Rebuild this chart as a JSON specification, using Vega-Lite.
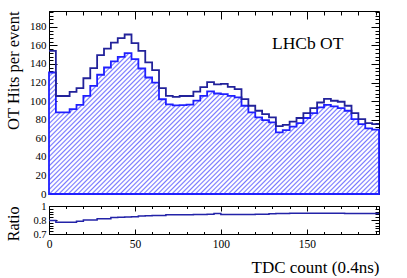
{
"$schema":"https://vega.github.io/schema/vega-lite/v6.json",
"padding":{"left":4,"top":10,"right":0,"bottom":0},
"bounds":"flush",
"spacing":12,
"datasets":{"h":[
{"tdc":0,"all":154,"sel":130.8,"ratio":0.845},
{"tdc":4,"all":105.5,"sel":87.8,"ratio":0.826},
{"tdc":8,"all":105.5,"sel":87.8,"ratio":0.826},
{"tdc":12,"all":110,"sel":91.4,"ratio":0.826},
{"tdc":16,"all":114,"sel":96,"ratio":0.836},
{"tdc":20,"all":124.6,"sel":105.7,"ratio":0.85},
{"tdc":24,"all":135.5,"sel":116.5,"ratio":0.85},
{"tdc":28,"all":149.5,"sel":128.4,"ratio":0.864},
{"tdc":32,"all":156.6,"sel":136.2,"ratio":0.864},
{"tdc":36,"all":163,"sel":142.7,"ratio":0.876},
{"tdc":40,"all":167.8,"sel":147.7,"ratio":0.88},
{"tdc":44,"all":171.7,"sel":151.7,"ratio":0.883},
{"tdc":48,"all":162.4,"sel":145.2,"ratio":0.885},
{"tdc":52,"all":154,"sel":135.1,"ratio":0.893},
{"tdc":56,"all":141.6,"sel":125.4,"ratio":0.895},
{"tdc":60,"all":133.4,"sel":120,"ratio":0.897},
{"tdc":64,"all":114,"sel":102,"ratio":0.897},
{"tdc":68,"all":105.7,"sel":96.5,"ratio":0.905},
{"tdc":72,"all":104.5,"sel":95.3,"ratio":0.905},
{"tdc":76,"all":105.5,"sel":95.7,"ratio":0.906},
{"tdc":80,"all":105.5,"sel":96.2,"ratio":0.907},
{"tdc":84,"all":110.2,"sel":100.5,"ratio":0.908},
{"tdc":88,"all":115,"sel":105.7,"ratio":0.91},
{"tdc":92,"all":120.5,"sel":110.5,"ratio":0.912},
{"tdc":96,"all":118,"sel":108.2,"ratio":0.92},
{"tdc":100,"all":118.5,"sel":107.6,"ratio":0.91},
{"tdc":104,"all":115.4,"sel":105.7,"ratio":0.91},
{"tdc":108,"all":113,"sel":104,"ratio":0.91},
{"tdc":112,"all":102.2,"sel":95,"ratio":0.91},
{"tdc":116,"all":95,"sel":87.9,"ratio":0.91},
{"tdc":120,"all":89.6,"sel":82.4,"ratio":0.911},
{"tdc":124,"all":86,"sel":79.6,"ratio":0.912},
{"tdc":128,"all":82.4,"sel":77,"ratio":0.918},
{"tdc":132,"all":73,"sel":66.3,"ratio":0.92},
{"tdc":136,"all":74.5,"sel":68.8,"ratio":0.92},
{"tdc":140,"all":78,"sel":72.5,"ratio":0.921},
{"tdc":144,"all":81.8,"sel":76.4,"ratio":0.921},
{"tdc":148,"all":87.1,"sel":81.8,"ratio":0.921},
{"tdc":152,"all":92.5,"sel":87.1,"ratio":0.921},
{"tdc":156,"all":98.5,"sel":93.2,"ratio":0.921},
{"tdc":160,"all":102.5,"sel":96,"ratio":0.921},
{"tdc":164,"all":100.4,"sel":94.3,"ratio":0.921},
{"tdc":168,"all":99.3,"sel":92.5,"ratio":0.921},
{"tdc":172,"all":95,"sel":89.6,"ratio":0.92},
{"tdc":176,"all":87.1,"sel":80.7,"ratio":0.92},
{"tdc":180,"all":80.7,"sel":75.3,"ratio":0.92},
{"tdc":184,"all":76.4,"sel":70.6,"ratio":0.919},
{"tdc":188,"all":75.3,"sel":69.2,"ratio":0.919},
{"tdc":192,"all":75.3,"sel":69.2,"ratio":0.919}
]},
"vconcat":[
{
"width":330,"height":183,
"data":{"name":"h"},
"resolve":{"axis":{"x":"independent","y":"independent"}},
"layer":[
{"mark":{"type":"area","interpolate":"step-after","stroke":"#2020ff","strokeWidth":1.8,
"fill":{"gradient":"linear","x1":0,"y1":0,"x2":1.2069,"y2":0.5153,"stops":[
{"offset":0,"color":"#77f"},{"offset":0.0033,"color":"#fff"},
{"offset":0.0067,"color":"#fff"},{"offset":0.01,"color":"#77f"},{"offset":0.0133,"color":"#fff"},
{"offset":0.0167,"color":"#fff"},{"offset":0.02,"color":"#77f"},{"offset":0.0233,"color":"#fff"},
{"offset":0.0267,"color":"#fff"},{"offset":0.03,"color":"#77f"},{"offset":0.0333,"color":"#fff"},
{"offset":0.0367,"color":"#fff"},{"offset":0.04,"color":"#77f"},{"offset":0.0433,"color":"#fff"},
{"offset":0.0467,"color":"#fff"},{"offset":0.05,"color":"#77f"},{"offset":0.0533,"color":"#fff"},
{"offset":0.0567,"color":"#fff"},{"offset":0.06,"color":"#77f"},{"offset":0.0633,"color":"#fff"},
{"offset":0.0667,"color":"#fff"},{"offset":0.07,"color":"#77f"},{"offset":0.0733,"color":"#fff"},
{"offset":0.0767,"color":"#fff"},{"offset":0.08,"color":"#77f"},{"offset":0.0833,"color":"#fff"},
{"offset":0.0867,"color":"#fff"},{"offset":0.09,"color":"#77f"},{"offset":0.0933,"color":"#fff"},
{"offset":0.0967,"color":"#fff"},{"offset":0.1,"color":"#77f"},{"offset":0.1033,"color":"#fff"},
{"offset":0.1067,"color":"#fff"},{"offset":0.11,"color":"#77f"},{"offset":0.1133,"color":"#fff"},
{"offset":0.1167,"color":"#fff"},{"offset":0.12,"color":"#77f"},{"offset":0.1233,"color":"#fff"},
{"offset":0.1267,"color":"#fff"},{"offset":0.13,"color":"#77f"},{"offset":0.1333,"color":"#fff"},
{"offset":0.1367,"color":"#fff"},{"offset":0.14,"color":"#77f"},{"offset":0.1433,"color":"#fff"},
{"offset":0.1467,"color":"#fff"},{"offset":0.15,"color":"#77f"},{"offset":0.1533,"color":"#fff"},
{"offset":0.1567,"color":"#fff"},{"offset":0.16,"color":"#77f"},{"offset":0.1633,"color":"#fff"},
{"offset":0.1667,"color":"#fff"},{"offset":0.17,"color":"#77f"},{"offset":0.1733,"color":"#fff"},
{"offset":0.1767,"color":"#fff"},{"offset":0.18,"color":"#77f"},{"offset":0.1833,"color":"#fff"},
{"offset":0.1867,"color":"#fff"},{"offset":0.19,"color":"#77f"},{"offset":0.1933,"color":"#fff"},
{"offset":0.1967,"color":"#fff"},{"offset":0.2,"color":"#77f"},{"offset":0.2033,"color":"#fff"},
{"offset":0.2067,"color":"#fff"},{"offset":0.21,"color":"#77f"},{"offset":0.2133,"color":"#fff"},
{"offset":0.2167,"color":"#fff"},{"offset":0.22,"color":"#77f"},{"offset":0.2233,"color":"#fff"},
{"offset":0.2267,"color":"#fff"},{"offset":0.23,"color":"#77f"},{"offset":0.2333,"color":"#fff"},
{"offset":0.2367,"color":"#fff"},{"offset":0.24,"color":"#77f"},{"offset":0.2433,"color":"#fff"},
{"offset":0.2467,"color":"#fff"},{"offset":0.25,"color":"#77f"},{"offset":0.2533,"color":"#fff"},
{"offset":0.2567,"color":"#fff"},{"offset":0.26,"color":"#77f"},{"offset":0.2633,"color":"#fff"},
{"offset":0.2667,"color":"#fff"},{"offset":0.27,"color":"#77f"},{"offset":0.2733,"color":"#fff"},
{"offset":0.2767,"color":"#fff"},{"offset":0.28,"color":"#77f"},{"offset":0.2833,"color":"#fff"},
{"offset":0.2867,"color":"#fff"},{"offset":0.29,"color":"#77f"},{"offset":0.2933,"color":"#fff"},
{"offset":0.2967,"color":"#fff"},{"offset":0.3,"color":"#77f"},{"offset":0.3033,"color":"#fff"},
{"offset":0.3067,"color":"#fff"},{"offset":0.31,"color":"#77f"},{"offset":0.3133,"color":"#fff"},
{"offset":0.3167,"color":"#fff"},{"offset":0.32,"color":"#77f"},{"offset":0.3233,"color":"#fff"},
{"offset":0.3267,"color":"#fff"},{"offset":0.33,"color":"#77f"},{"offset":0.3333,"color":"#fff"},
{"offset":0.3367,"color":"#fff"},{"offset":0.34,"color":"#77f"},{"offset":0.3433,"color":"#fff"},
{"offset":0.3467,"color":"#fff"},{"offset":0.35,"color":"#77f"},{"offset":0.3533,"color":"#fff"},
{"offset":0.3567,"color":"#fff"},{"offset":0.36,"color":"#77f"},{"offset":0.3633,"color":"#fff"},
{"offset":0.3667,"color":"#fff"},{"offset":0.37,"color":"#77f"},{"offset":0.3733,"color":"#fff"},
{"offset":0.3767,"color":"#fff"},{"offset":0.38,"color":"#77f"},{"offset":0.3833,"color":"#fff"},
{"offset":0.3867,"color":"#fff"},{"offset":0.39,"color":"#77f"},{"offset":0.3933,"color":"#fff"},
{"offset":0.3967,"color":"#fff"},{"offset":0.4,"color":"#77f"},{"offset":0.4033,"color":"#fff"},
{"offset":0.4067,"color":"#fff"},{"offset":0.41,"color":"#77f"},{"offset":0.4133,"color":"#fff"},
{"offset":0.4167,"color":"#fff"},{"offset":0.42,"color":"#77f"},{"offset":0.4233,"color":"#fff"},
{"offset":0.4267,"color":"#fff"},{"offset":0.43,"color":"#77f"},{"offset":0.4333,"color":"#fff"},
{"offset":0.4367,"color":"#fff"},{"offset":0.44,"color":"#77f"},{"offset":0.4433,"color":"#fff"},
{"offset":0.4467,"color":"#fff"},{"offset":0.45,"color":"#77f"},{"offset":0.4533,"color":"#fff"},
{"offset":0.4567,"color":"#fff"},{"offset":0.46,"color":"#77f"},{"offset":0.4633,"color":"#fff"},
{"offset":0.4667,"color":"#fff"},{"offset":0.47,"color":"#77f"},{"offset":0.4733,"color":"#fff"},
{"offset":0.4767,"color":"#fff"},{"offset":0.48,"color":"#77f"},{"offset":0.4833,"color":"#fff"},
{"offset":0.4867,"color":"#fff"},{"offset":0.49,"color":"#77f"},{"offset":0.4933,"color":"#fff"},
{"offset":0.4967,"color":"#fff"},{"offset":0.5,"color":"#77f"},{"offset":0.5033,"color":"#fff"},
{"offset":0.5067,"color":"#fff"},{"offset":0.51,"color":"#77f"},{"offset":0.5133,"color":"#fff"},
{"offset":0.5167,"color":"#fff"},{"offset":0.52,"color":"#77f"},{"offset":0.5233,"color":"#fff"},
{"offset":0.5267,"color":"#fff"},{"offset":0.53,"color":"#77f"},{"offset":0.5333,"color":"#fff"},
{"offset":0.5367,"color":"#fff"},{"offset":0.54,"color":"#77f"},{"offset":0.5433,"color":"#fff"},
{"offset":0.5467,"color":"#fff"},{"offset":0.55,"color":"#77f"},{"offset":0.5533,"color":"#fff"},
{"offset":0.5567,"color":"#fff"},{"offset":0.56,"color":"#77f"},{"offset":0.5633,"color":"#fff"},
{"offset":0.5667,"color":"#fff"},{"offset":0.57,"color":"#77f"},{"offset":0.5733,"color":"#fff"},
{"offset":0.5767,"color":"#fff"},{"offset":0.58,"color":"#77f"},{"offset":0.5833,"color":"#fff"},
{"offset":0.5867,"color":"#fff"},{"offset":0.59,"color":"#77f"},{"offset":0.5933,"color":"#fff"},
{"offset":0.5967,"color":"#fff"},{"offset":0.6,"color":"#77f"},{"offset":0.6033,"color":"#fff"},
{"offset":0.6067,"color":"#fff"},{"offset":0.61,"color":"#77f"},{"offset":0.6133,"color":"#fff"},
{"offset":0.6167,"color":"#fff"},{"offset":0.62,"color":"#77f"},{"offset":0.6233,"color":"#fff"},
{"offset":0.6267,"color":"#fff"},{"offset":0.63,"color":"#77f"},{"offset":0.6333,"color":"#fff"},
{"offset":0.6367,"color":"#fff"},{"offset":0.64,"color":"#77f"},{"offset":0.6433,"color":"#fff"},
{"offset":0.6467,"color":"#fff"},{"offset":0.65,"color":"#77f"},{"offset":0.6533,"color":"#fff"},
{"offset":0.6567,"color":"#fff"},{"offset":0.66,"color":"#77f"},{"offset":0.6633,"color":"#fff"},
{"offset":0.6667,"color":"#fff"},{"offset":0.67,"color":"#77f"},{"offset":0.6733,"color":"#fff"},
{"offset":0.6767,"color":"#fff"},{"offset":0.68,"color":"#77f"},{"offset":0.6833,"color":"#fff"},
{"offset":0.6867,"color":"#fff"},{"offset":0.69,"color":"#77f"},{"offset":0.6933,"color":"#fff"},
{"offset":0.6967,"color":"#fff"},{"offset":0.7,"color":"#77f"},{"offset":0.7033,"color":"#fff"},
{"offset":0.7067,"color":"#fff"},{"offset":0.71,"color":"#77f"},{"offset":0.7133,"color":"#fff"},
{"offset":0.7167,"color":"#fff"},{"offset":0.72,"color":"#77f"},{"offset":0.7233,"color":"#fff"},
{"offset":0.7267,"color":"#fff"},{"offset":0.73,"color":"#77f"},{"offset":0.7333,"color":"#fff"},
{"offset":0.7367,"color":"#fff"},{"offset":0.74,"color":"#77f"},{"offset":0.7433,"color":"#fff"},
{"offset":0.7467,"color":"#fff"},{"offset":0.75,"color":"#77f"},{"offset":0.7533,"color":"#fff"},
{"offset":0.7567,"color":"#fff"},{"offset":0.76,"color":"#77f"},{"offset":0.7633,"color":"#fff"},
{"offset":0.7667,"color":"#fff"},{"offset":0.77,"color":"#77f"},{"offset":0.7733,"color":"#fff"},
{"offset":0.7767,"color":"#fff"},{"offset":0.78,"color":"#77f"},{"offset":0.7833,"color":"#fff"},
{"offset":0.7867,"color":"#fff"},{"offset":0.79,"color":"#77f"},{"offset":0.7933,"color":"#fff"},
{"offset":0.7967,"color":"#fff"},{"offset":0.8,"color":"#77f"},{"offset":0.8033,"color":"#fff"},
{"offset":0.8067,"color":"#fff"},{"offset":0.81,"color":"#77f"},{"offset":0.8133,"color":"#fff"},
{"offset":0.8167,"color":"#fff"},{"offset":0.82,"color":"#77f"},{"offset":0.8233,"color":"#fff"},
{"offset":0.8267,"color":"#fff"},{"offset":0.83,"color":"#77f"},{"offset":0.8333,"color":"#fff"},
{"offset":0.8367,"color":"#fff"},{"offset":0.84,"color":"#77f"},{"offset":0.8433,"color":"#fff"},
{"offset":0.8467,"color":"#fff"},{"offset":0.85,"color":"#77f"},{"offset":0.8533,"color":"#fff"},
{"offset":0.8567,"color":"#fff"},{"offset":0.86,"color":"#77f"},{"offset":0.8633,"color":"#fff"},
{"offset":0.8667,"color":"#fff"},{"offset":0.87,"color":"#77f"},{"offset":0.8733,"color":"#fff"},
{"offset":0.8767,"color":"#fff"},{"offset":0.88,"color":"#77f"},{"offset":0.8833,"color":"#fff"},
{"offset":0.8867,"color":"#fff"},{"offset":0.89,"color":"#77f"},{"offset":0.8933,"color":"#fff"},
{"offset":0.8967,"color":"#fff"},{"offset":0.9,"color":"#77f"},{"offset":0.9033,"color":"#fff"},
{"offset":0.9067,"color":"#fff"},{"offset":0.91,"color":"#77f"},{"offset":0.9133,"color":"#fff"},
{"offset":0.9167,"color":"#fff"},{"offset":0.92,"color":"#77f"},{"offset":0.9233,"color":"#fff"},
{"offset":0.9267,"color":"#fff"},{"offset":0.93,"color":"#77f"},{"offset":0.9333,"color":"#fff"},
{"offset":0.9367,"color":"#fff"},{"offset":0.94,"color":"#77f"},{"offset":0.9433,"color":"#fff"},
{"offset":0.9467,"color":"#fff"},{"offset":0.95,"color":"#77f"},{"offset":0.9533,"color":"#fff"},
{"offset":0.9567,"color":"#fff"},{"offset":0.96,"color":"#77f"},{"offset":0.9633,"color":"#fff"},
{"offset":0.9667,"color":"#fff"},{"offset":0.97,"color":"#77f"},{"offset":0.9733,"color":"#fff"},
{"offset":0.9767,"color":"#fff"},{"offset":0.98,"color":"#77f"},{"offset":0.9833,"color":"#fff"},
{"offset":0.9867,"color":"#fff"},{"offset":0.99,"color":"#77f"},{"offset":0.9933,"color":"#fff"},
{"offset":0.9967,"color":"#fff"},{"offset":1,"color":"#77f"}
]}},
"encoding":{
"x":{"field":"tdc","type":"quantitative","scale":{"domain":[0,192],"nice":false,"zero":false},"axis":{"orient":"bottom","values":[0,50,100,150],"tickSize":-8,"labels":false,"title":null}},
"y":{"field":"sel","type":"quantitative","scale":{"domain":[0,197],"nice":false},"axis":{"orient":"left","values":[0,20,40,60,80,100,120,140,160,180],"tickSize":-8,"labelPadding":11,"labelFontSize":11,"title":"OT Hits per event","titleFontSize":16.5,"titleX":-31,"titleY":0,"titleAlign":"right","titleBaseline":"alphabetic","titleAngle":-90}}}},
{"mark":{"type":"line","interpolate":"step-after","stroke":"#22229a","strokeWidth":1.8},
"encoding":{
"x":{"field":"tdc","type":"quantitative","axis":{"orient":"bottom","values":[0,10,20,30,40,50,60,70,80,90,100,110,120,130,140,150,160,170,180,190],"tickSize":-4,"labels":false,"title":null}},
"y":{"field":"all","type":"quantitative","axis":{"orient":"left","values":[0,4,8,12,16,20,24,28,32,36,40,44,48,52,56,60,64,68,72,76,80,84,88,92,96,100,104,108,112,116,120,124,128,132,136,140,144,148,152,156,160,164,168,172,176,180,184,188,192,196],"tickSize":-4,"labels":false,"title":null}}}},
{"mark":{"type":"line","opacity":0},
"encoding":{
"x":{"field":"tdc","type":"quantitative","axis":{"orient":"top","values":[0,50,100,150],"tickSize":-8,"labels":false,"title":null}},
"y":{"field":"all","type":"quantitative","axis":{"orient":"right","values":[0,20,40,60,80,100,120,140,160,180],"tickSize":-8,"labels":false,"title":null}}}},
{"mark":{"type":"line","opacity":0},
"encoding":{
"x":{"field":"tdc","type":"quantitative","axis":{"orient":"top","values":[0,10,20,30,40,50,60,70,80,90,100,110,120,130,140,150,160,170,180,190],"tickSize":-4,"labels":false,"title":null}},
"y":{"field":"all","type":"quantitative","axis":{"orient":"right","values":[0,4,8,12,16,20,24,28,32,36,40,44,48,52,56,60,64,68,72,76,80,84,88,92,96,100,104,108,112,116,120,124,128,132,136,140,144,148,152,156,160,164,168,172,176,180,184,188,192,196],"tickSize":-4,"labels":false,"title":null}}}},
{"data":{"values":[{"label":"LHCb OT"}]},
"mark":{"type":"text","font":"Liberation Serif","fontSize":17.5,"align":"center","baseline":"alphabetic","color":"#000"},
"encoding":{
"x":{"datum":150.5,"type":"quantitative","axis":null},
"y":{"datum":156.4,"type":"quantitative","axis":null},
"text":{"field":"label"}}}
]
},
{
"width":330,"height":28,
"data":{"name":"h"},
"resolve":{"axis":{"x":"independent","y":"independent"}},
"layer":[
{"mark":{"type":"line","interpolate":"step-after","stroke":"#2323a8","strokeWidth":1.5},
"encoding":{
"x":{"field":"tdc","type":"quantitative","scale":{"domain":[0,192],"nice":false,"zero":false},"axis":{"orient":"bottom","values":[0,50,100,150],"tickSize":-5,"labelPadding":9,"labelFontSize":11.5,"title":"TDC count (0.4ns)","titleFontSize":17,"titleAlign":"right","titleX":330,"titleY":38.4,"titleBaseline":"alphabetic"}},
"y":{"field":"ratio","type":"quantitative","scale":{"domain":[0.7,1],"nice":false,"zero":false},"axis":{"orient":"left","values":[0.7,0.85,1],"format":"~g","tickSize":-8,"labelPadding":11,"labelFontSize":10.5,"title":"Ratio","titleFontSize":16,"titleX":-31,"titleY":0,"titleAlign":"right","titleBaseline":"alphabetic","titleAngle":-90}}}},
{"mark":{"type":"line","opacity":0},
"encoding":{
"x":{"field":"tdc","type":"quantitative","axis":{"orient":"bottom","values":[0,10,20,30,40,50,60,70,80,90,100,110,120,130,140,150,160,170,180,190],"tickSize":-2.5,"labels":false,"title":null}},
"y":{"field":"ratio","type":"quantitative","axis":{"orient":"left","values":[0.73,0.76,0.79,0.82,0.88,0.91,0.94,0.97],"tickSize":-4,"labels":false,"title":null}}}},
{"mark":{"type":"line","opacity":0},
"encoding":{
"x":{"field":"tdc","type":"quantitative","axis":{"orient":"top","values":[0,50,100,150],"tickSize":-5,"labels":false,"title":null}},
"y":{"field":"ratio","type":"quantitative","axis":{"orient":"right","values":[0.7,0.85,1],"tickSize":-8,"labels":false,"title":null}}}},
{"mark":{"type":"line","opacity":0},
"encoding":{
"x":{"field":"tdc","type":"quantitative","axis":{"orient":"top","values":[0,10,20,30,40,50,60,70,80,90,100,110,120,130,140,150,160,170,180,190],"tickSize":-2.5,"labels":false,"title":null}},
"y":{"field":"ratio","type":"quantitative","axis":{"orient":"right","values":[0.73,0.76,0.79,0.82,0.88,0.91,0.94,0.97],"tickSize":-4,"labels":false,"title":null}}}}
]
}
],
"config":{
"font":"Liberation Serif",
"view":{"stroke":"#000","strokeWidth":1},
"axis":{"domain":false,"grid":false,"ticks":true,"tickColor":"#000","tickWidth":1,"labelColor":"#000","labelFont":"Liberation Serif","labelFlush":false,"labelOverlap":false,"titleFont":"Liberation Serif","titleFontWeight":"normal","titleColor":"#000"}
}
}
